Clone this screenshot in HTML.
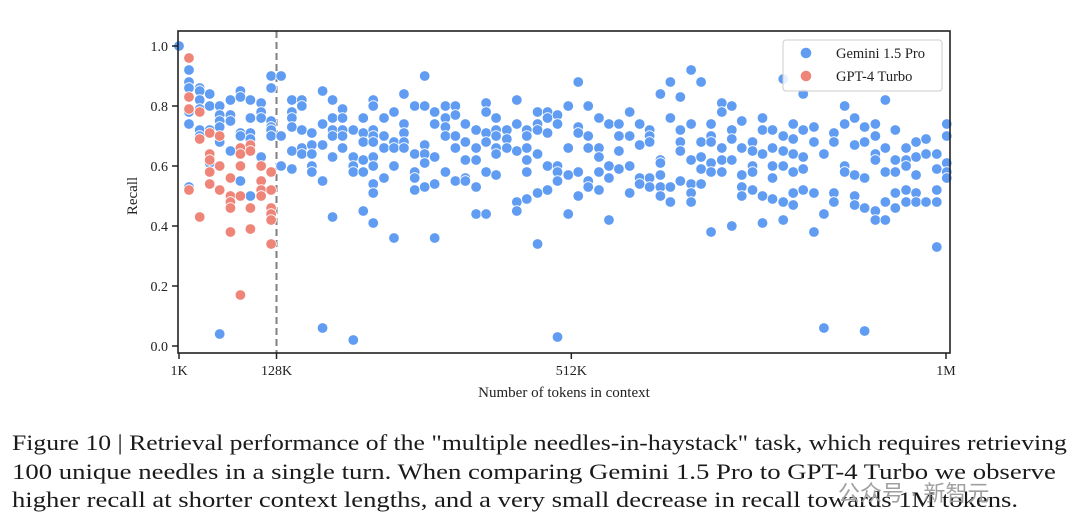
<!DOCTYPE html>
<html><head><meta charset="utf-8">
<style>
html,body{margin:0;padding:0;background:#fff;width:1080px;height:529px;overflow:hidden}
#chart{position:absolute;left:0;top:0}
.cap{position:absolute;left:12px;font-family:"Liberation Serif","Noto Serif CJK SC",serif;font-size:22px;color:#1a1a1a;white-space:nowrap;transform-origin:0 0}
.wm{position:absolute;left:838px;top:476px;font-family:"Liberation Sans","Noto Sans CJK SC",sans-serif;font-size:22px;color:#a0a0a0;white-space:nowrap}
</style></head><body>
<svg id="chart" width="1080" height="420" xmlns="http://www.w3.org/2000/svg" font-family="Liberation Serif, serif"></svg>
<div class="cap" style="top:430px;transform:scaleX(1.167)">Figure 10 | Retrieval performance of the "multiple needles-in-haystack" task, which requires retrieving</div>
<div class="cap" style="top:459px;transform:scaleX(1.215)">100 unique needles in a single turn. When comparing Gemini 1.5 Pro to GPT-4 Turbo we observe</div>
<div class="cap" style="top:487px;transform:scaleX(1.21)">higher recall at shorter context lengths, and a very small decrease in recall towards 1M tokens.</div>
<div class="wm">公众号 · 新智元</div>
<script>
const contextK=[1,14,28,41,54,68,81,94,108,121,134,148,161,174,188,201,214,228,241,254,268,281,294,308,321,334,348,361,374,388,401,414,428,441,454,468,481,494,508,521,534,548,561,574,588,601,614,628,641,654,668,681,694,708,721,734,748,761,774,788,801,814,828,841,854,868,881,894,908,921,934,948,961,974,988,1001];
const geminiRecall=[
[1.0],[0.92,0.88,0.86,0.78,0.74,0.53],[0.86,0.85,0.82,0.79,0.72,0.70],[0.84,0.8,0.72,0.61],[0.8,0.77,0.75,0.73,0.68,0.04],
[0.82,0.77,0.75,0.65],[0.85,0.83,0.71,0.70,0.55],[0.82,0.76,0.71,0.69,0.5],[0.81,0.78,0.76,0.63],[0.9,0.86,0.75,0.73,0.72,0.7],
[0.9,0.7,0.6],[0.82,0.78,0.76,0.73,0.65,0.59],[0.82,0.8,0.72,0.66,0.64],[0.71,0.67,0.64,0.6,0.58],[0.85,0.74,0.67,0.55,0.06],
[0.82,0.76,0.72,0.7,0.63,0.43],[0.79,0.76,0.72,0.7,0.66],[0.72,0.63,0.6,0.58,0.02],[0.76,0.71,0.68,0.62,0.58,0.45],[0.82,0.80,0.72,0.70,0.68,0.63,0.6,0.54,0.51,0.41],
[0.76,0.70,0.66,0.56],[0.78,0.68,0.66,0.6,0.36],[0.84,0.74,0.71,0.68,0.66],[0.8,0.64,0.58,0.56,0.52],[0.9,0.8,0.67,0.64,0.61,0.53],
[0.78,0.74,0.63,0.54,0.36],[0.8,0.76,0.73,0.70,0.58],[0.8,0.77,0.70,0.66,0.55],[0.74,0.68,0.62,0.56,0.55],[0.72,0.66,0.62,0.53,0.44],
[0.81,0.78,0.71,0.68,0.58,0.44],[0.76,0.72,0.70,0.66,0.64,0.57],[0.72,0.69,0.66],[0.82,0.74,0.65,0.48,0.45],[0.72,0.70,0.66,0.62,0.58,0.49],
[0.78,0.74,0.72,0.64,0.51,0.34],[0.78,0.76,0.71,0.6,0.52],[0.77,0.74,0.6,0.58,0.55,0.03],[0.8,0.66,0.57,0.44],[0.88,0.73,0.71,0.58,0.5],
[0.8,0.70,0.66,0.55,0.53],[0.76,0.66,0.63,0.58,0.52],[0.74,0.6,0.56,0.42],[0.74,0.70,0.65,0.59],[0.78,0.70,0.6,0.51],
[0.74,0.67,0.56,0.54],[0.72,0.70,0.68,0.56,0.53],[0.84,0.62,0.61,0.57,0.53,0.50],[0.88,0.76,0.53,0.48],[0.83,0.72,0.68,0.65,0.55],
[0.92,0.74,0.62,0.54,0.51,0.48],[0.88,0.68,0.63,0.59,0.54],[0.74,0.70,0.68,0.61,0.58,0.38],[0.81,0.78,0.66,0.62,0.58],[0.80,0.72,0.69,0.62,0.40],
[0.75,0.66,0.57,0.53,0.50],[0.68,0.65,0.60,0.58,0.52],[0.76,0.72,0.64,0.50,0.41],[0.72,0.66,0.60,0.56,0.49],[0.89,0.70,0.65,0.60,0.48,0.42],
[0.74,0.69,0.64,0.58,0.51,0.47],[0.84,0.72,0.63,0.59,0.52],[0.73,0.68,0.51,0.38],[0.64,0.44,0.06],[0.71,0.68,0.51,0.48],
[0.80,0.74,0.60,0.58],[0.76,0.67,0.57,0.50,0.47],[0.73,0.68,0.56,0.46,0.05],[0.74,0.70,0.64,0.62,0.45,0.42],[0.82,0.66,0.58,0.48,0.42],
[0.72,0.62,0.58,0.51,0.46],[0.66,0.62,0.60,0.52,0.48],[0.68,0.63,0.57,0.51,0.48],[0.69,0.64,0.48],[0.64,0.59,0.52,0.48,0.33],
[0.74,0.70,0.61,0.58,0.56]];
const gptRecall=[[],[0.96,0.83,0.79,0.52],[0.78,0.69,0.43],[0.71,0.64,0.62,0.58,0.54],[0.7,0.6,0.52],[0.56,0.5,0.48,0.46,0.38],[0.66,0.64,0.60,0.5,0.17],[0.67,0.65,0.46,0.39],[0.6,0.55,0.52,0.5],[0.58,0.52,0.46,0.44,0.42,0.34]];
const yTicks=[0.0,0.2,0.4,0.6,0.8,1.0];
const xTicks=[1,128,512,1000];
const xTickLabels=["1K","128K","512K","1M"];
const cutoffK=128;

const NS="http://www.w3.org/2000/svg";
const svg=document.getElementById('chart');
const L=178,R=950,T=31,B=353;
const xs=k=>179+(k-1)*(946-179)/999;
const ys=v=>346-v*300;
function el(tag,attrs,parent){const e=document.createElementNS(NS,tag);for(const k in attrs)e.setAttribute(k,attrs[k]);(parent||svg).appendChild(e);return e;}

const dl=el('line',{x1:xs(cutoffK),x2:xs(cutoffK),y1:T,y2:B,stroke:'#808080','stroke-width':2,'stroke-dasharray':'7,4'});



const gG=el('g',{});


geminiRecall.forEach((col,i)=>col.forEach(v=>{
  const c=el('circle',{cx:xs(contextK[i]),cy:ys(v),r:5.3,fill:'#5f9cf2',stroke:'#fff','stroke-width':0.8},gG);
  
  
}));
const rG=el('g',{});


gptRecall.forEach((col,i)=>col.forEach(v=>{
  const c=el('circle',{cx:xs(contextK[i]),cy:ys(v),r:5.3,fill:'#ef8578',stroke:'#fff','stroke-width':0.8},rG);
  
  
}));

const fr=el('rect',{x:L,y:T,width:R-L,height:B-T,fill:'none',stroke:'#222','stroke-width':1.6});



yTicks.forEach(v=>{
  el('line',{x1:L-6,x2:L,y1:ys(v),y2:ys(v),stroke:'#222','stroke-width':1.5});
  const t=el('text',{x:L-10,y:ys(v)+5,'text-anchor':'end','font-size':14,fill:'#222'});
  t.textContent=v.toFixed(1);
  
  
});
xTicks.forEach((k,i)=>{
  el('line',{x1:xs(k),x2:xs(k),y1:B,y2:B+6,stroke:'#222','stroke-width':1.5});
  const t=el('text',{x:xs(k),y:B+22,'text-anchor':'middle','font-size':14,fill:'#222'});
  t.textContent=xTickLabels[i];
  
  
});
const xl=el('text',{x:564,y:397,'text-anchor':'middle','font-size':15,fill:'#222'});
xl.textContent='Number of tokens in context';


const yl=el('text',{x:0,y:0,'text-anchor':'middle','font-size':15,fill:'#222',transform:'translate(137,196) rotate(-90)'});
yl.textContent='Recall';



const lg=el('g',{});


el('rect',{x:783,y:40,width:159,height:51,rx:3,fill:'rgba(255,255,255,0.85)',stroke:'#ccc','stroke-width':1},lg);
[['Gemini 1.5 Pro','#5f9cf2',53],['GPT-4 Turbo','#ef8578',76]].forEach(([n,c,y])=>{
  el('circle',{cx:806,cy:y,r:5.3,fill:c},lg);
  const t=el('text',{x:836,y:y+5,'font-size':14.5,fill:'#222'},lg);
  t.textContent=n;
  
  
});
</script>
</body></html>
